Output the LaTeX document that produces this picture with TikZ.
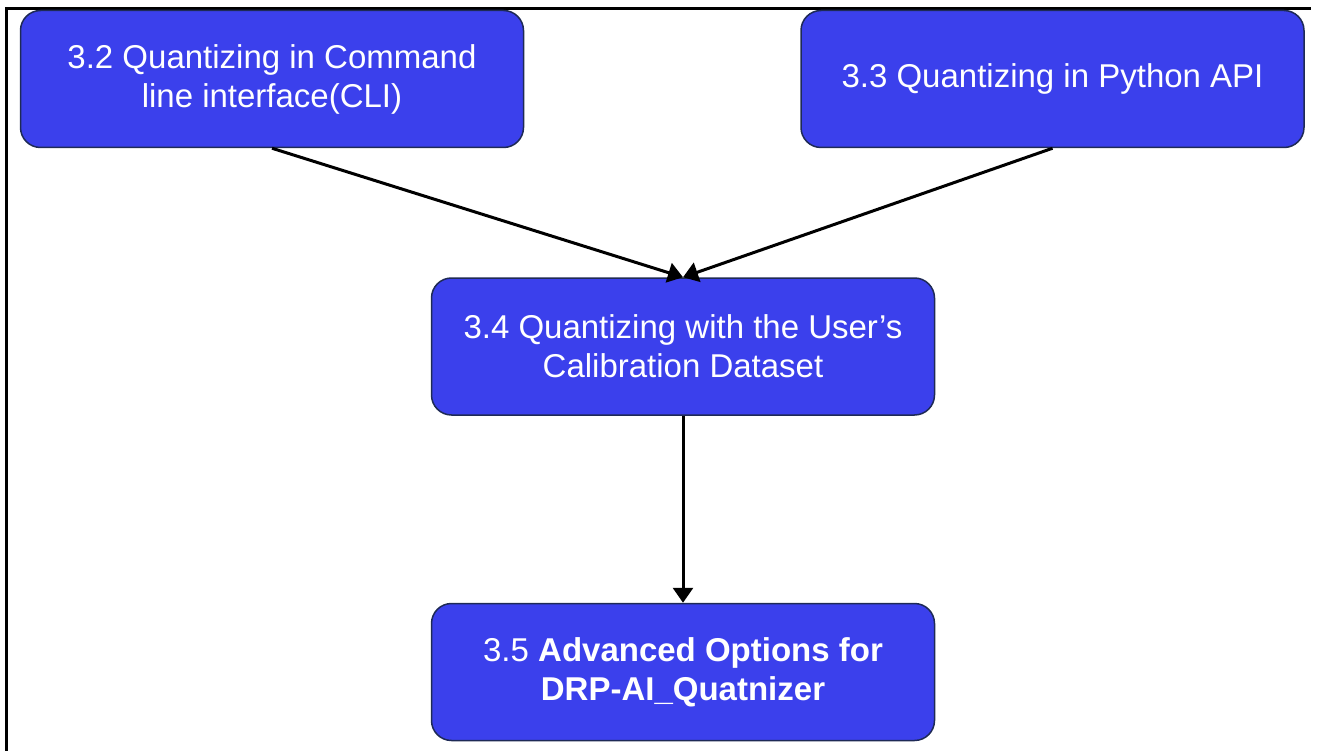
\documentclass[tikz,border=0pt]{standalone}
\usepackage{fontspec}
\setmainfont{Liberation Sans}
\usetikzlibrary{positioning,arrows.meta}
\definecolor{boxblue}{RGB}{59,64,236}
\definecolor{boxedge}{RGB}{30,42,86}

\begin{document}
\begin{tikzpicture}[x=1pt,y=-1pt]
		\tikzstyle{stepbox}=[draw=boxedge, line width=1.5pt, fill=boxblue, rounded corners=20pt,
			text=white, align=center, font=\fontsize{33}{39}\selectfont,
			minimum width=503pt, minimum height=137pt, inner sep=0pt]
		\tikzstyle{flow}=[black, line width=3pt, -{Triangle[length=15pt,width=20pt]}]
		\useasboundingbox (0,0) rectangle (1319,751);
		\draw [black, line width=3pt] (6,751) -- (6,9) -- (1311,9);
		\node [stepbox] (cli) at (272,79) {3.2 Quantizing in Command\\line interface(CLI)};
		\node [stepbox] (api) at (1052.5,79) {3.3 Quantizing in Python API};
		\node [stepbox] (calib) at (683,346.5) {3.4 Quantizing with the User’s\\Calibration Dataset};
		\node [stepbox] (adv) at (683,672) {3.5 \textbf{Advanced Options for}\\\textbf{DRP-AI\_Quatnizer}};
		\draw [flow] (cli.south) -- (calib.north);
		\draw [flow] (api.south) -- (calib.north);
		\draw [flow] (calib.south) -- (adv.north);
\end{tikzpicture}
\end{document}
